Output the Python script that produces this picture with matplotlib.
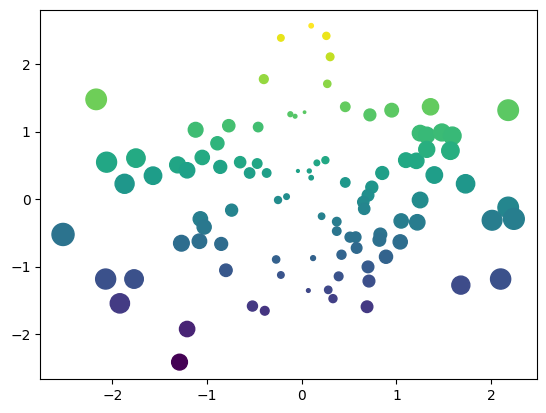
import numpy as np
import matplotlib
matplotlib.use("Agg")
import matplotlib.pyplot as plt

# point positions
x = [0.10, -0.22, 0.26, 0.30, 0.27, -0.40, -2.17, -0.12, -0.07, 0.03,
     0.46, 0.72, 0.95, 1.36, 2.18, -1.12, -0.77, -0.46, -0.89, -2.06,
     -1.75, -1.87, -1.57, -1.31, -1.21, -1.05, -0.86, -0.65, -0.47, -0.55,
     -0.37, -0.04, 0.08, 0.10, 0.16, 0.25, 0.46, 0.85, 1.10, 1.21,
     1.25, 1.32, 1.48, 1.59, 1.32, 1.57, 1.40, 1.73, 0.74, 0.70,
     0.65, 0.66, -0.25, -0.16, 1.25, 2.18, 2.01, 2.24, 0.21, 0.37,
     0.37, 0.51, 0.57, 0.58, 0.42, 0.83, 0.82, 1.05, 1.22, 1.04,
     0.89, 0.70, 0.71, 0.39, 0.12, -0.27, -0.22, 0.07, 0.28, 0.33,
     0.69, 1.68, 2.10, -2.52, -1.07, -1.03, -1.27, -1.08, -0.85, -0.80,
     -2.07, -1.77, -1.92, -0.52, -0.39, -1.21, -1.29, -0.74]
y = [2.57, 2.39, 2.42, 2.11, 1.71, 1.78, 1.48, 1.26, 1.23, 1.29,
     1.37, 1.25, 1.32, 1.37, 1.32, 1.03, 1.09, 1.07, 0.83, 0.55,
     0.61, 0.23, 0.35, 0.51, 0.43, 0.62, 0.48, 0.55, 0.53, 0.39,
     0.39, 0.42, 0.42, 0.32, 0.54, 0.58, 0.25, 0.39, 0.58, 0.57,
     0.98, 0.95, 0.99, 0.94, 0.74, 0.72, 0.36, 0.23, 0.18, 0.06,
     -0.04, -0.14, -0.01, 0.04, -0.01, -0.12, -0.31, -0.29, -0.25, -0.33,
     -0.47, -0.56, -0.56, -0.72, -0.82, -0.52, -0.60, -0.32, -0.34, -0.63,
     -0.85, -1.00, -1.21, -1.14, -0.87, -0.89, -1.12, -1.35, -1.34, -1.47,
     -1.59, -1.27, -1.18, -0.52, -0.29, -0.41, -0.65, -0.62, -0.66, -1.05,
     -1.18, -1.18, -1.54, -1.58, -1.65, -1.92, -2.41, -0.16]

x = np.array(x)
y = np.array(y)

fig = plt.figure(figsize=(5.46, 4.13), dpi=100)
ax = fig.add_axes([0.0738, 0.0823, 0.909, 0.893])
ax.scatter(x, y, c=y, s=100 * np.abs(x), cmap='viridis')
ax.set_xlim(-2.76, 2.48)
ax.set_ylim(-2.66, 2.80)
ax.set_xticks([-2, -1, 0, 1, 2])
ax.set_yticks([-2, -1, 0, 1, 2])

fig.savefig("out.png", dpi=100)
